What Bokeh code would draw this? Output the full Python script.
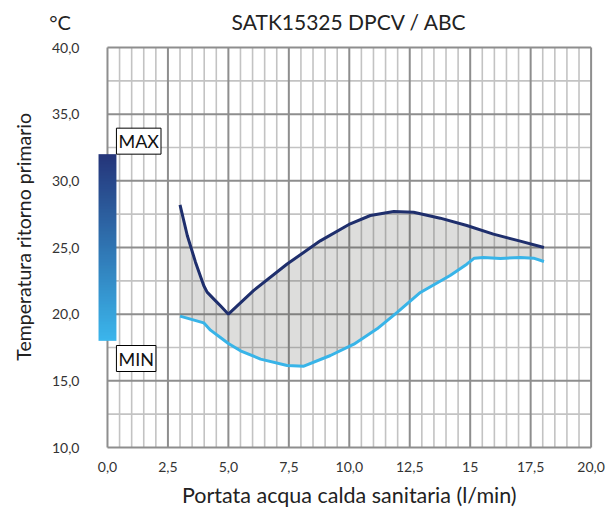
import numpy as np
from bokeh.plotting import figure
from bokeh.models import Range1d, FixedTicker, Label, LinearAxis
from bokeh.embed import file_html
from bokeh.resources import INLINE

# ---------------- data ----------------
title_text = "SATK15325 DPCV / ABC"
unit_text = "°C"
x_label = "Portata acqua calda sanitaria (l/min)"
y_label = "Temperatura ritorno primario"

x_ticks = [0, 2.5, 5, 7.5, 10, 12.5, 15, 17.5, 20]
x_tick_labels = ["0,0", "2,5", "5,0", "7,5", "10,0", "12,5", "15", "17,5", "20,0"]
y_ticks = [10, 15, 20, 25, 30, 35, 40]
y_tick_labels = ["10,0", "15,0", "20,0", "25,0", "30,0", "35,0", "40,0"]

# upper curve (MAX)
max_x = [3.0, 3.3, 3.64, 3.98, 4.12, 4.4, 4.7, 5.0, 6.05, 7.43, 8.8, 10.04, 10.87, 11.84, 12.66, 13.76, 14.86, 15.96, 17.07, 18.05]
max_y = [28.2, 25.9, 23.9, 22.15, 21.65, 21.13, 20.57, 20.0, 21.78, 23.76, 25.5, 26.78, 27.4, 27.7, 27.65, 27.2, 26.65, 26.0, 25.48, 25.0]
# lower curve (MIN)
min_x = [3.0, 3.98, 4.26, 4.67, 5.0, 5.5, 6.33, 7.43, 8.12, 9.22, 10.19, 11.15, 11.98, 12.94, 14.17, 14.86, 15.17, 15.55, 16.25, 17.07, 17.62, 18.05]
min_y = [19.85, 19.35, 18.8, 18.25, 17.8, 17.25, 16.63, 16.15, 16.1, 16.9, 17.75, 18.9, 20.13, 21.63, 22.9, 23.75, 24.2, 24.25, 24.18, 24.25, 24.2, 23.95]

bar_range = [18.0, 32.0]   # MIN / MAX gradient bar

# ---------------- styles ----------------
FONT = "Lato"
NAVY = "#1f2f6d"
CYAN = "#38b4e8"
BAR_TOP = "#25357a"
BAR_BOTTOM = "#3bb6ec"

p = figure(width=608, height=512, output_backend="svg", toolbar_location=None,
           x_range=Range1d(-2.77, 20.43), y_range=Range1d(9.85, 43.0),
           min_border_left=40, min_border_right=7, min_border_top=7, min_border_bottom=63)
p.title = None
p.outline_line_color = None
p.xgrid.visible = False
p.ygrid.visible = False
p.background_fill_color = "white"

# grid drawn over [0,20] x [10,40]
gx = np.arange(0, 20.001, 0.5)
gy = np.arange(10, 40.001, 2.5)
minor_v = [v for v in gx if abs(v / 2.5 - round(v / 2.5)) > 1e-6]
major_v = [v for v in gx if abs(v / 2.5 - round(v / 2.5)) <= 1e-6]
minor_h = [v for v in gy if abs(v / 5 - round(v / 5)) > 1e-6]
major_h = [v for v in gy if abs(v / 5 - round(v / 5)) <= 1e-6]
x0, x1 = gx[0], gx[-1]
y0, y1 = gy[0], gy[-1]
p.multi_line(xs=[[v, v] for v in minor_v] + [[x0, x1] for _ in minor_h],
             ys=[[y0, y1] for _ in minor_v] + [[v, v] for v in minor_h],
             line_color="#c3c3c3", line_width=1.6)
p.multi_line(xs=[[v, v] for v in major_v] + [[x0, x1] for _ in major_h],
             ys=[[y0, y1] for _ in major_v] + [[v, v] for v in major_h],
             line_color="#8e8e8e", line_width=2)

# shaded band
p.patch(x=max_x + min_x[::-1], y=max_y + min_y[::-1],
        fill_color="#4d4843", fill_alpha=0.19, line_color=None)

p.line(min_x, min_y, line_color=CYAN, line_width=3)
p.line(max_x, max_y, line_color=NAVY, line_width=3)

# gradient bar
def hex2rgb(h):
    return np.array([int(h[i:i + 2], 16) for i in (1, 3, 5)], dtype=float)

n = 120
t = np.linspace(0, 1, n)[:, None]
rgb = hex2rgb(BAR_BOTTOM) * (1 - t) + hex2rgb(BAR_TOP) * t
img = np.empty((n, 1), dtype=np.uint32)
view = img.view(dtype=np.uint8).reshape((n, 1, 4))
view[:, 0, 0] = rgb[:, 0]
view[:, 0, 1] = rgb[:, 1]
view[:, 0, 2] = rgb[:, 2]
view[:, 0, 3] = 255
p.image_rgba(image=[img], x=-0.37, y=bar_range[0], dw=0.74, dh=bar_range[1] - bar_range[0])

# MAX / MIN labels
p.add_layout(Label(x=0.37, y=bar_range[1], text="MAX", text_align="left", text_baseline="bottom",
                   text_font=FONT, text_font_size="18px", text_color="#111",
                   border_line_color="black", border_line_width=1,
                   background_fill_color="white", padding=2))
p.add_layout(Label(x=0.37, y=bar_range[0] - 0.35, text="MIN", text_align="left", text_baseline="top",
                   text_font=FONT, text_font_size="18px", text_color="#111",
                   border_line_color="black", border_line_width=1,
                   background_fill_color="white", padding=2))

# header: unit and title
p.add_layout(Label(x=-1.96, y=41.9, text=unit_text, text_align="center", text_baseline="middle",
                   text_font=FONT, text_font_size="20px", text_color="#222"))
p.add_layout(Label(x=10, y=41.95, text=title_text, text_align="center", text_baseline="middle",
                   text_font=FONT, text_font_size="21px", text_color="#222"))


def plain(ax):
    ax.axis_line_color = None
    ax.major_tick_line_color = None
    ax.minor_tick_line_color = None
    ax.major_tick_in = 0
    ax.major_tick_out = 0
    ax.major_label_text_font = FONT


# tick axes
xa = p.below[0]
ya = p.left[0]
for ax in (xa, ya):
    plain(ax)
    ax.major_label_text_font_size = "14px"
    ax.major_label_text_color = "#333"

xa.ticker = FixedTicker(ticks=x_ticks)
xa.major_label_overrides = {t_: l for t_, l in zip(x_ticks, x_tick_labels)}
xa.bounds = (x_ticks[0], x_ticks[-1])
xa.major_label_standoff = 12

ya.ticker = FixedTicker(ticks=y_ticks)
ya.major_label_overrides = {t_: l for t_, l in zip(y_ticks, y_tick_labels)}
ya.bounds = (y_ticks[0], y_ticks[-1])
ya.major_label_standoff = -39

# axis titles, positioned on the data scales
x_title_at = (x_ticks[0] + x_ticks[-1]) / 2
y_title_at = 25.8
xlab_axis = LinearAxis(ticker=FixedTicker(ticks=[x_title_at]),
                       major_label_overrides={x_title_at: x_label})
plain(xlab_axis)
xlab_axis.major_label_text_font_size = "21.5px"
xlab_axis.major_label_text_color = "#222"
xlab_axis.major_label_standoff = 7
p.add_layout(xlab_axis, "below")

ylab_axis = LinearAxis(ticker=FixedTicker(ticks=[y_title_at]),
                       major_label_overrides={y_title_at: y_label})
plain(ylab_axis)
ylab_axis.major_label_orientation = "vertical"
ylab_axis.major_label_text_font_size = "19.5px"
ylab_axis.major_label_text_color = "#222"
ylab_axis.major_label_standoff = 5
p.add_layout(ylab_axis, "left")

open("out.html", "w").write(file_html(p, INLINE))
